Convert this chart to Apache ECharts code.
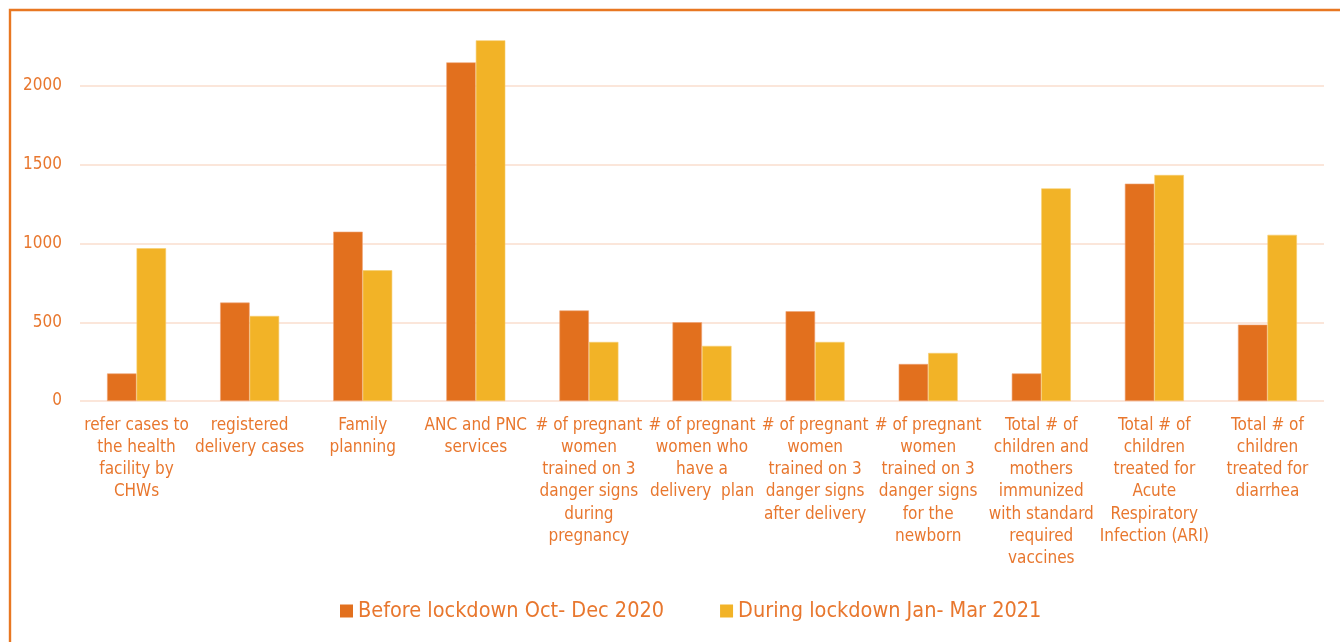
<!DOCTYPE html>
<html><head><meta charset="utf-8">
<style>html,body{margin:0;padding:0;background:#fff}#c{width:1340px;height:642px}</style>
<script src="https://cdn.jsdelivr.net/npm/echarts@6/dist/echarts.min.js"></script>
</head><body><div id="c"></div>
<script>
const categories = [
  "refer cases to\nthe health\nfacility by\nCHWs",
  "registered\ndelivery cases",
  "Family\nplanning",
  "ANC and PNC\nservices",
  "# of pregnant\nwomen\ntrained on 3\ndanger signs\nduring\npregnancy",
  "# of pregnant\nwomen who\nhave a\ndelivery  plan",
  "# of pregnant\nwomen\ntrained on 3\ndanger signs\nafter delivery",
  "# of pregnant\nwomen\ntrained on 3\ndanger signs\nfor the\nnewborn",
  "Total # of\nchildren and\nmothers\nimmunized\nwith standard\nrequired\nvaccines",
  "Total # of\nchildren\ntreated for\nAcute\nRespiratory\nInfection (ARI)",
  "Total # of\nchildren\ntreated for\ndiarrhea"
];
const beforeName = "Before lockdown Oct- Dec 2020";
const duringName = "During lockdown Jan- Mar 2021";
const beforeValues = [175, 625, 1075, 2150, 575, 500, 570, 235, 175, 1380, 485];
const duringValues = [970, 540, 830, 2290, 375, 350, 375, 305, 1350, 1435, 1055];

const FONT = '"Liberation Sans Narrow","DejaVu Sans Condensed","Open Sans",sans-serif';
const TXT = '#E8772E';
const chart = echarts.init(document.getElementById('c'), null, {renderer:'canvas'});
chart.setOption({
  animation: false,
  textStyle: {fontFamily: FONT},
  graphic: [{type:'rect', shape:{x:10, y:10, width:1400, height:700}, style:{fill:'none', stroke:'#E87722', lineWidth:2.4}, z:0}],
  grid: {left: 80, right: 16, top: 7.25, bottom: 241, containLabel: false},
  legend: {
    bottom: 15, left: 335, itemWidth: 13, itemHeight: 13, itemGap: 56,
    icon: 'rect',
    itemStyle: {borderWidth: 0},
    textStyle: {color: TXT, fontSize: 21.5, fontFamily: FONT},
    data: [beforeName, duringName]
  },
  xAxis: {
    type: 'category', data: categories,
    axisLine: {show: false}, axisTick: {show: false},
    axisLabel: {interval: 0, color: TXT, fontSize: 17, lineHeight: 22.3, margin: 13, fontFamily: FONT}
  },
  yAxis: {
    type: 'value', min: 0, max: 2500, interval: 500,
    axisLine: {show: false}, axisTick: {show: false},
    axisLabel: {color: TXT, fontSize: 17, margin: 18, showMaxLabel: false, fontFamily: FONT,
      padding: [3, 0, 0, 0],
      formatter: function (v) { return String(v); }},
    splitLine: {show: true, showMaxLine: false, lineStyle: {color: '#FBE6DA', width: 2}}
  },
  series: [
    {name: beforeName, type: 'bar', data: beforeValues, barWidth: 29.5, barGap: '0%',
     itemStyle: {color: '#E2701E', borderColor:'#EFA577', borderWidth:0.6}},
    {name: duringName, type: 'bar', data: duringValues, barWidth: 29.5,
     itemStyle: {color: '#F2B327', borderColor:'#F7CD6E', borderWidth:0.6}}
  ]
});
</script></body></html>
